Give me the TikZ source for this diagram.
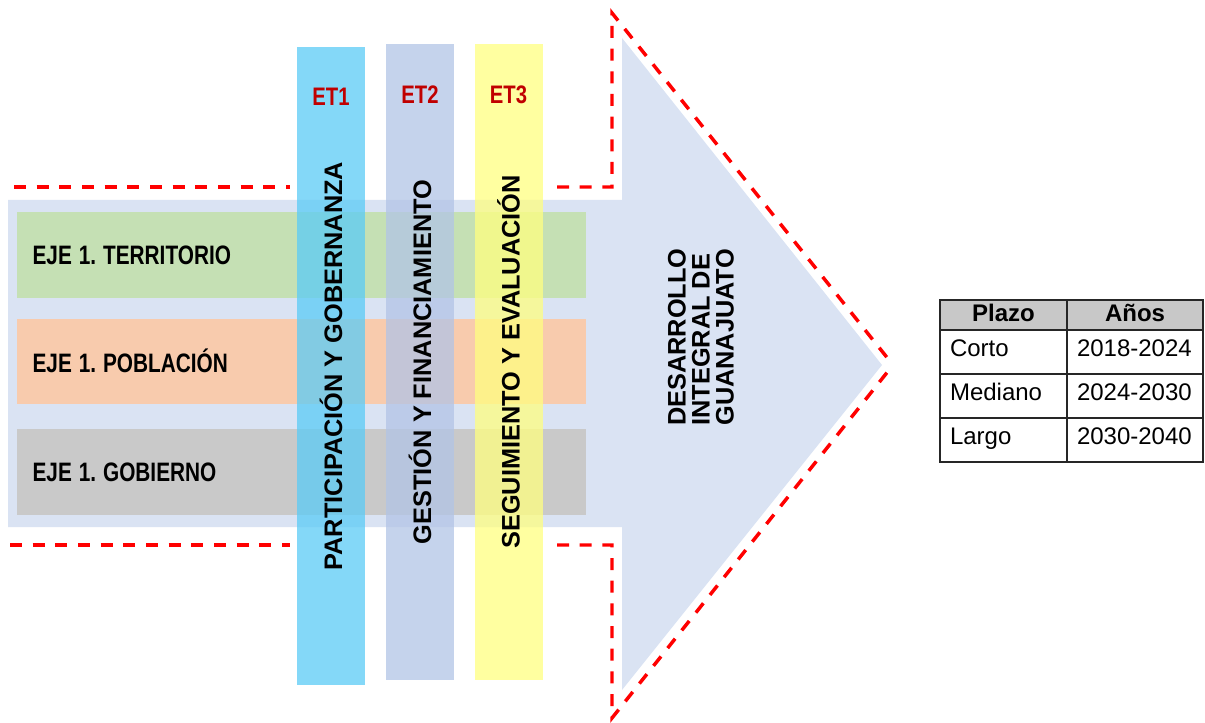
\documentclass[tikz,border=0pt]{standalone}
\usepackage{fontspec}
\setmainfont{Liberation Sans}
\usetikzlibrary{positioning}
\frenchspacing

\definecolor{flecha}{HTML}{DAE3F3}
\definecolor{verdeEje}{HTML}{C5E0B4}
\definecolor{naranjaEje}{HTML}{F8CBAD}
\definecolor{grisEje}{HTML}{C9C9C9}
\definecolor{cianET}{HTML}{5BCBF6}
\definecolor{azulET}{HTML}{B2C4E6}
\definecolor{amarilloET}{HTML}{FFFF80}
\definecolor{rojoET}{HTML}{C00000}
\definecolor{grisTabla}{HTML}{C8C8C8}

\begin{document}
\begin{tikzpicture}[
        x=0.75pt, y=-0.75pt,
        eje/.style={
            rectangle, anchor=north west, minimum width=426.75pt, minimum height=64.5pt,
            inner xsep=11.5pt, inner ysep=0pt, text width=403.75pt, align=left,
            font=\bfseries\fontsize{20}{22}\selectfont
        },
        columna/.style={
            rectangle, rotate=90, minimum height=51pt, inner sep=0pt,
            fill opacity=.75, text opacity=1, font=\bfseries\fontsize{19}{22}\selectfont
        },
        etiqueta/.style={
            color=rojoET, font=\bfseries\fontsize{19}{20}\selectfont
        },
        contorno/.style={
            draw=red, line width=2.6pt, dash pattern=on 9pt off 8pt
        },
        celda/.style={
            rectangle, draw=black!85, line width=1.5pt, outer sep=0pt, inner sep=0pt,
            minimum height=33pt, text height=13pt, text depth=7pt, align=left,
            font=\fontsize{18}{20}\selectfont
        },
        cabecera/.style={
            celda, fill=grisTabla, minimum height=22.5pt, text height=12pt, text depth=3pt,
            align=center, font=\bfseries\fontsize{18}{20}\selectfont
        },
    ]
    \useasboundingbox (0,0) rectangle (1205,723);

    % flecha de fondo
    \fill[flecha] (8,200) -- (622,200) -- (622,38) -- (882,365) -- (622,690)
        -- (622,527) -- (8,527) -- cycle;
    \draw[contorno] (14,187) -- (290,187);
    \draw[contorno] (10,545) -- (290,545);
    \draw[contorno] (557,187) -- (612,187) -- (612,13) -- (893,365);
    \draw[contorno] (557,545) -- (612,545) -- (612,718) -- (893,365);

    % ejes
    \node (territorio) [eje, fill=verdeEje] at (17,212) {\scalebox{0.78}[1]{EJE 1. TERRITORIO}};
    \node (poblacion) [eje, fill=naranjaEje, minimum height=63.75pt, below=15pt of territorio] {\scalebox{0.78}[1]{EJE 1. POBLACIÓN}};
    \node (gobierno) [eje, fill=grisEje, below=18.75pt of poblacion] {\scalebox{0.78}[1]{EJE 1. GOBIERNO}};

    % estrategias transversales
    \node (col1) [columna, fill=cianET, minimum width=478.5pt] at (331,366) {PARTICIPACIÓN Y GOBERNANZA};
    \node (col2) [columna, fill=azulET, minimum width=477pt] at (420,362) {GESTIÓN Y FINANCIAMIENTO};
    \node (col3) [columna, fill=amarilloET, minimum width=477pt] at (508.5,362) {SEGUIMIENTO Y EVALUACIÓN};

    \node (et1) [etiqueta] at (331,97) {\scalebox{0.8}[1]{ET1}};
    \node (et2) [etiqueta] at (420,95) {\scalebox{0.8}[1]{ET2}};
    \node (et3) [etiqueta] at (508.5,95) {\scalebox{0.8}[1]{ET3}};

    \node (meta) [rotate=90, align=left, font=\bfseries\fontsize{19}{18}\selectfont] at (701,337) {DESARROLLO\\INTEGRAL DE\\GUANAJUATO};

    % tabla de plazos
    \node (plazo) [cabecera, anchor=north west, minimum width=95.25pt] at (940,300) {Plazo};
    \node (anios) [cabecera, minimum width=102pt, right=0pt of plazo] {Años};
    \node (corto) [celda, text width=80.25pt, minimum width=95.25pt, below=0pt of plazo] {Corto};
    \node (corto2) [celda, text width=87pt, minimum width=102pt, below=0pt of anios] {2018-2024};
    \node (mediano) [celda, text width=80.25pt, minimum width=95.25pt, below=0pt of corto] {Mediano};
    \node (mediano2) [celda, text width=87pt, minimum width=102pt, below=0pt of corto2] {2024-2030};
    \node (largo) [celda, text width=80.25pt, minimum width=95.25pt, below=0pt of mediano] {Largo};
    \node (largo2) [celda, text width=87pt, minimum width=102pt, below=0pt of mediano2] {2030-2040};

\end{tikzpicture}
\end{document}
